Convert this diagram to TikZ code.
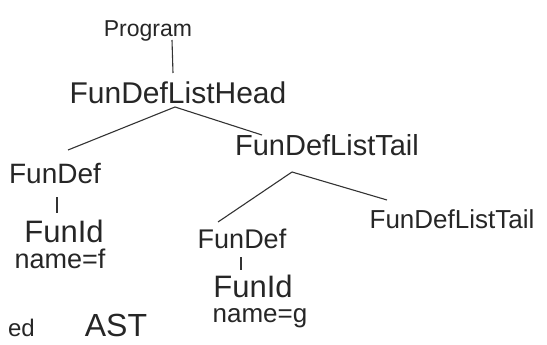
\documentclass[tikz,border=0pt]{standalone}
\usepackage{fontspec}
\setmainfont{Liberation Sans}
\usetikzlibrary{calc}
\newcommand{\wsz}[1]{\fontsize{#1}{#1}\selectfont}

\begin{document}
\begin{tikzpicture}[x=1pt, y=-1pt, every edge/.style={draw=black!80,line width=1.1pt},
                    word/.style={anchor=base, inner sep=0pt, text=black!85}]

\clip (0,0) rectangle (547,345);

\node[word] (prog) at (148,37) {\wsz{23}Program};
\node[word] (head) at (178,104) {\wsz{30}FunDefListHead};
\node[word] (fdA) at (55,183) {\wsz{28}FunDef};
\node[word] (idA) at (64,242) {\wsz{31}FunId};
\node[word] (nameA) at (60,268) {\wsz{27}name=f};
\node[word] (tailA) at (327,155) {\wsz{29}FunDefListTail};
\node[word] (fdB) at (242,248) {\wsz{27}FunDef};
\node[word] (idB) at (253,297) {\wsz{31}FunId};
\node[word] (nameB) at (260,322) {\wsz{26}name=g};
\node[word] (tailB) at (452,228) {\wsz{26}FunDefListTail};
\node[word] (ast) at (116,336) {\wsz{32}AST};
\node[word, anchor=base east] (ed) at (35,336) {\wsz{24}ed};

\path
($(prog.base)+(24,3)$) edge ($(head.base)+(-5,-31)$)
($(head.base)+(-3,3)$) edge ($(fdA.base)+(13,-33)$)
($(head.base)+(-3,3)$) edge ($(tailA.base)+(-65,-20)$)
($(fdA.base)+(2,14)$) edge ($(idA.base)+(-7,-29)$)
($(tailA.base)+(-35,17)$) edge ($(fdB.base)+(-24,-26)$)
($(tailA.base)+(-35,17)$) edge ($(tailB.base)+(-65,-28)$)
($(fdB.base)+(-1,9)$) edge ($(idB.base)+(-12,-27)$);
\end{tikzpicture}
\end{document}
